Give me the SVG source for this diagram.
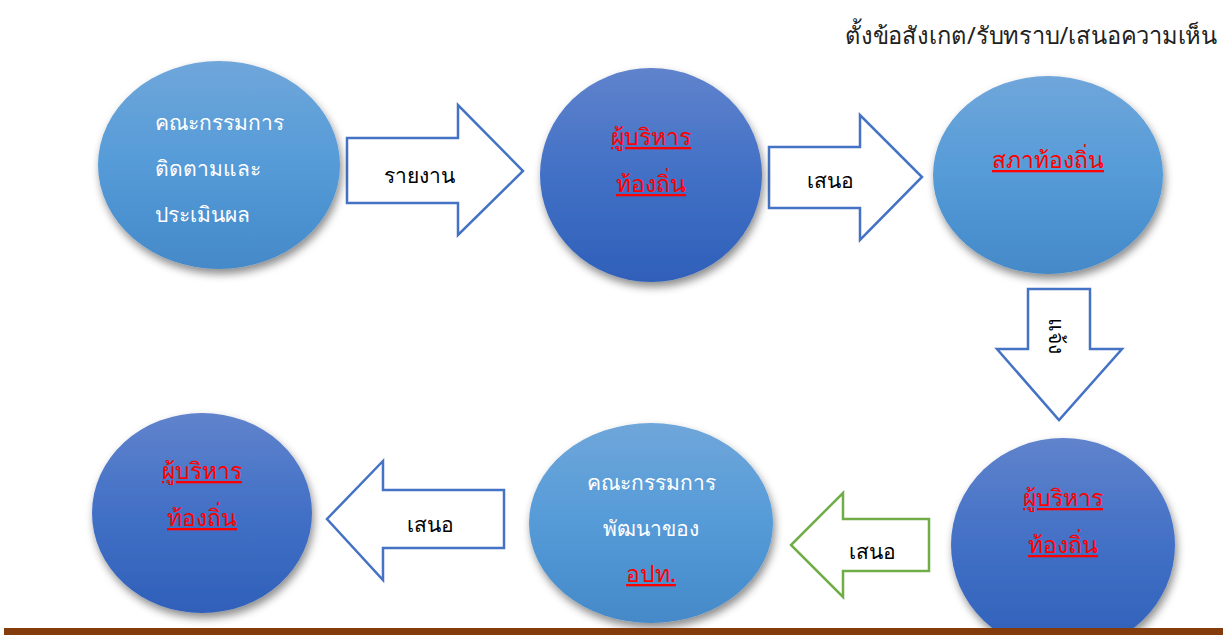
<svg xmlns="http://www.w3.org/2000/svg" width="1232" height="635" viewBox="0 0 1232 635">
<defs>
<linearGradient id="gLight" x1="0" y1="0" x2="0" y2="1">
<stop offset="0" stop-color="#6fa6da"/>
<stop offset="0.5" stop-color="#559bd8"/>
<stop offset="1" stop-color="#4589c8"/>
</linearGradient>
<linearGradient id="gDark" x1="0" y1="0" x2="0" y2="1">
<stop offset="0" stop-color="#6083cc"/>
<stop offset="0.5" stop-color="#4270c6"/>
<stop offset="1" stop-color="#2f60b9"/>
</linearGradient>
<filter id="sh" x="-20%" y="-20%" width="140%" height="145%">
<feDropShadow dx="2" dy="5" stdDeviation="4" flood-color="#000" flood-opacity="0.45"/>
</filter>
<style>
.light{fill:url(#gLight);filter:url(#sh)}
.dark{fill:url(#gDark);filter:url(#sh)}
.arrow{fill:#fff;stroke:#4472c4;stroke-width:2.5;stroke-linejoin:miter}
.garrow{fill:#fff;stroke:#70ad47;stroke-width:2.5}
.wt{font-family:"Noto Sans","DejaVu Sans",sans-serif;font-size:21px;fill:#fff}
.rt{font-family:"Noto Serif","Liberation Serif",serif;font-size:23px;fill:#ff0000;text-decoration:underline;text-anchor:middle}
.bt{font-family:"Noto Sans","DejaVu Sans",sans-serif;font-size:21px;fill:#000;text-anchor:middle}
.title{font-family:"Noto Sans","DejaVu Sans",sans-serif;font-size:24px;fill:#222}
</style>
</defs>
<rect width="1232" height="635" fill="#fff"/>

<text class="title" x="845" y="44" textLength="372" lengthAdjust="spacingAndGlyphs">ตั้งข้อสังเกต/รับทราบ/เสนอความเห็น</text>

<g id="connectors">
<g id="arrow1">
<polygon class="arrow" points="347,138 458,138 458,105 523,171 458,235 458,203 347,203"/>
<text class="bt" x="419" y="183">รายงาน</text>
</g>
<g id="arrow2">
<polygon class="arrow" points="769,147 860,147 860,115 922,177 860,240 860,208 769,208"/>
<text class="bt" x="830" y="188">เสนอ</text>
</g>
<g id="arrow3">
<polygon class="arrow" points="1028,289 1090,289 1090,349 1122,349 1059,420 997,349 1028,349"/>
<text class="bt" transform="translate(1049,336) rotate(90)" x="0" y="0">แจ้ง</text>
</g>
<g id="arrow4">
<polygon class="garrow" points="929,519 843,519 843,493 791,545 843,597 843,571 929,571"/>
<text class="bt" x="872" y="559">เสนอ</text>
</g>
<g id="arrow5">
<polygon class="arrow" points="504,490 383,490 383,461 327,519 383,580 383,548 504,548"/>
<text class="bt" x="430" y="532">เสนอ</text>
</g>
</g>

<g id="node1">
<ellipse class="light" cx="219" cy="165" rx="121" ry="104"/>
<text class="wt" x="155" y="130">คณะกรรมการ</text>
<text class="wt" x="155" y="176">ติดตามและ</text>
<text class="wt" x="155" y="222">ประเมินผล</text>
</g>

<g id="node2">
<ellipse class="dark" cx="651" cy="175" rx="111" ry="107"/>
<text class="rt" x="651" y="145">ผู้บริหาร</text>
<text class="rt" x="651" y="192">ท้องถิ่น</text>
</g>

<g id="node3">
<ellipse class="light" cx="1048" cy="175" rx="115" ry="99"/>
<text class="rt" x="1048" y="168">สภาท้องถิ่น</text>
</g>

<g id="node4">
<ellipse class="dark" cx="1063" cy="545" rx="112" ry="107"/>
<text class="rt" x="1063" y="506">ผู้บริหาร</text>
<text class="rt" x="1063" y="553">ท้องถิ่น</text>
</g>

<g id="node5">
<ellipse class="light" cx="651" cy="523" rx="122" ry="100"/>
<text class="wt" x="651" y="490" text-anchor="middle">คณะกรรมการ</text>
<text class="wt" x="651" y="536" text-anchor="middle">พัฒนาของ</text>
<text class="rt" x="651" y="582">อปท.</text>
</g>

<g id="node6">
<ellipse class="dark" cx="202" cy="513" rx="110" ry="100"/>
<text class="rt" x="202" y="479">ผู้บริหาร</text>
<text class="rt" x="202" y="526">ท้องถิ่น</text>
</g>

<rect id="bar" x="4" y="628" width="1219" height="7" fill="#843c0c"/>
</svg>
